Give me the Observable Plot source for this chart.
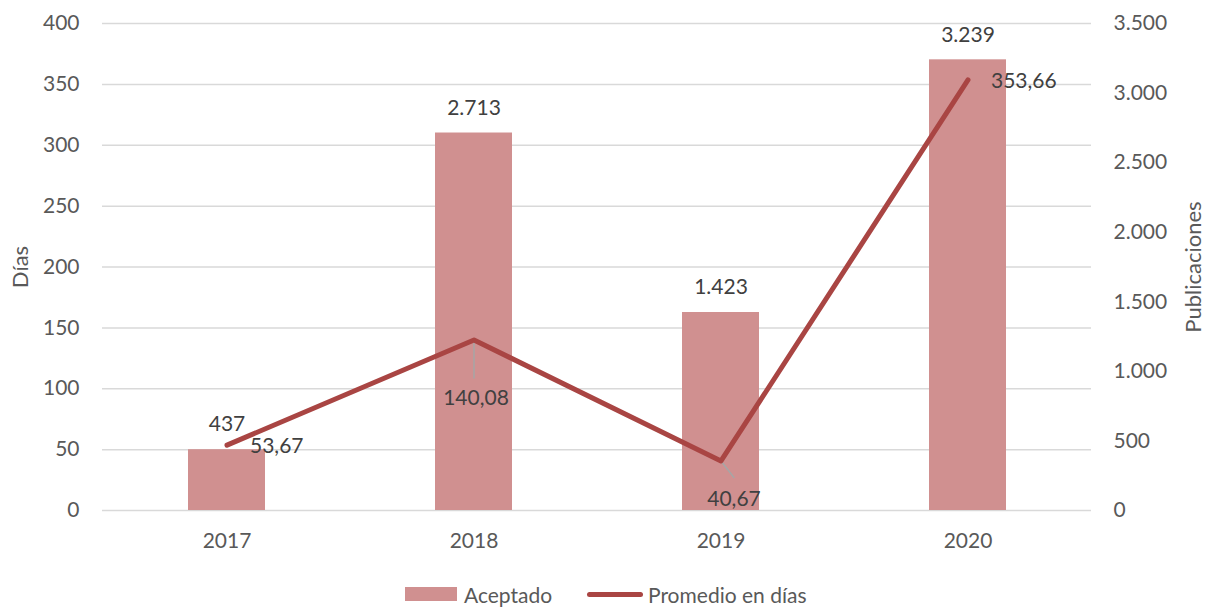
<!DOCTYPE html>
<html>
<head>
<meta charset="utf-8">
<script src="https://cdn.jsdelivr.net/npm/d3@7"></script>
<script src="https://cdn.jsdelivr.net/npm/@observablehq/plot@0.6"></script>
<style>
  html, body { margin: 0; padding: 0; background: #ffffff; }
  #wrap { position: relative; width: 1216px; height: 608px; font-family: Lato, "Noto Sans", sans-serif; }
  #legend { position: absolute; left: 0; top: 580px; width: 1216px; height: 28px; font-size: 21px; color: #595959; }
  .item { position: absolute; top: 0; height: 28px; display: flex; align-items: center; }
  .sw-bar { width: 52px; height: 14px; background: #D09090; margin-right: 7px; }
  .sw-line { width: 56px; height: 5px; border-radius: 3px; background: #A94543; margin-right: 5px; }
</style>
</head>
<body>
<div id="wrap">
  <div id="chart"></div>
  <div id="legend">
    <div class="item" style="left:405px"><div class="sw-bar"></div><span>Aceptado</span></div>
    <div class="item" style="left:587px"><div class="sw-line"></div><span>Promedio en días</span></div>
  </div>
</div>
<script>
// ---- data ----
const years = ["2017", "2018", "2019", "2020"];
const aceptado = [437, 2713, 1423, 3239];          // Publicaciones (right axis)
const promedio = [53.67, 140.08, 40.67, 353.66];   // Días (left axis)
const leftTicks = [0, 50, 100, 150, 200, 250, 300, 350, 400];
const rightTicks = [0, 500, 1000, 1500, 2000, 2500, 3000, 3500];

const rows = years.map((year, i) => ({ year, aceptado: aceptado[i], promedio: promedio[i] }));

const loc = d3.formatLocale({ decimal: ",", thousands: ".", grouping: [3], currency: ["", " €"] });
const fmtInt = loc.format(",.0f");
const fmtDec = loc.format(",.2f");

const leftMax = 400, rightMax = 3500;
const k = leftMax / rightMax; // map publicaciones onto the left (días) scale

const leader = {
  draw(context, l) { context.moveTo(0, 0); context.lineTo(0, -l); }
};

const labelColor = "#404040";

const chart = Plot.plot({
  width: 1216,
  height: 560,
  marginLeft: 102,
  marginRight: 125,
  marginTop: 23,
  marginBottom: 50,
  style: { fontFamily: "Lato, 'Noto Sans', sans-serif", fontSize: "21px", color: "#595959", background: "#ffffff" },
  x: { type: "band", domain: years, padding: 0 },
  y: { domain: [0, leftMax] },
  marks: [
    Plot.gridY(leftTicks, { stroke: "#d9d9d9", strokeOpacity: 1, strokeWidth: 1.5 }),
    Plot.barY(rows, { x: "year", y: d => d.aceptado * k, fill: "#D09090", insetLeft: 85, insetRight: 85 }),
    // leader lines
    Plot.vector(rows.filter(d => d.year === "2018"), { x: "year", y: "promedio", length: 38, rotate: 180, shape: leader, anchor: "start", stroke: "#a6a6a6", strokeWidth: 1.5 }),
    Plot.vector(rows.filter(d => d.year === "2019"), { x: "year", y: "promedio", length: 21, rotate: 142, shape: leader, anchor: "start", stroke: "#a6a6a6", strokeWidth: 1.5 }),
    Plot.line(rows, { x: "year", y: "promedio", stroke: "#A94543", strokeWidth: 5, strokeLinecap: "round", strokeLinejoin: "round" }),
    // bar labels
    Plot.text(rows, { x: "year", y: d => d.aceptado * k, text: d => fmtInt(d.aceptado), dy: -25, fill: labelColor }),
    // line labels
    Plot.text(rows.filter(d => d.year === "2017" || d.year === "2020"), { x: "year", y: "promedio", text: d => fmtDec(d.promedio), textAnchor: "start", dx: 23, dy: 1, fill: labelColor }),
    Plot.text(rows.filter(d => d.year === "2018"), { x: "year", y: "promedio", text: d => fmtDec(d.promedio), dx: 2, dy: 58, fill: labelColor }),
    Plot.text(rows.filter(d => d.year === "2019"), { x: "year", y: "promedio", text: d => fmtDec(d.promedio), dx: 13, dy: 38, fill: labelColor }),
    // axes
    Plot.axisY(leftTicks, { anchor: "left", tickSize: 0, tickPadding: 23, fontSize: 21, tickFormat: d => fmtInt(d), label: null }),
    Plot.axisY(rightTicks.map(v => v * k), { anchor: "right", tickSize: 0, tickPadding: 22, fontSize: 21, tickFormat: d => fmtInt(Math.round(d / k)), label: null }),
    Plot.axisX({ tickSize: 0, tickPadding: 23, fontSize: 21, label: null }),
    // axis titles
    Plot.text(["Días"], { frameAnchor: "left", textAnchor: "middle", dx: -82, rotate: -90, fontSize: 22, fill: "#595959" }),
    Plot.text(["Publicaciones"], { frameAnchor: "right", textAnchor: "middle", dx: 102, rotate: -90, fontSize: 22, fill: "#595959" })
  ]
});
document.getElementById("chart").appendChild(chart);
</script>
</body>
</html>
